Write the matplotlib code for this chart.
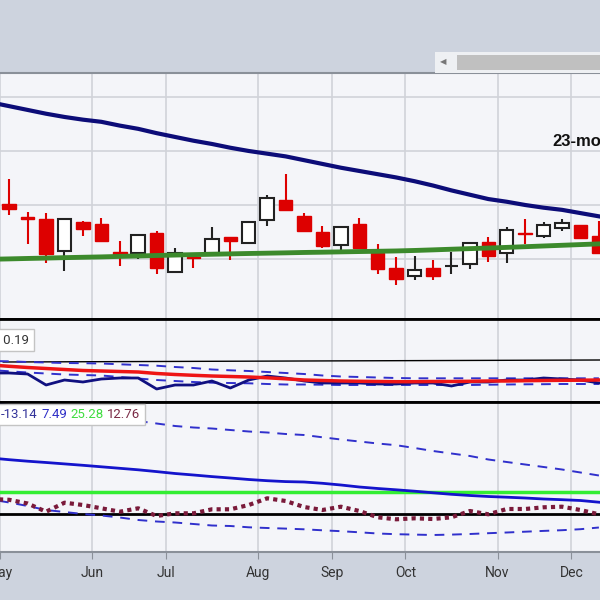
import matplotlib.pyplot as plt
from matplotlib.patches import Rectangle
from matplotlib.offsetbox import TextArea, HPacker, AnchoredOffsetbox

# weekly candles (index 0..32), price units
opens = [110.2, 107.8, 107.4, 101.5, 106.9, 106.5, 101.3, 101.1, 104.8, 97.6, 100.4,
         101.1, 104.1, 103.0, 107.2, 110.9, 108.0, 105.0, 102.6, 106.5, 101.1, 98.3,
         96.9, 98.3, 98.7, 99.1, 103.1, 101.1, 104.9, 104.3, 105.7, 106.3, 104.3]
highs = [114.8, 108.7, 108.5, 107.6, 107.0, 107.6, 103.3, 104.4, 105.2, 102.0, 101.1,
         105.9, 104.1, 107.0, 111.9, 115.7, 108.5, 106.1, 105.9, 107.6, 102.8, 100.4,
         100.6, 99.8, 101.3, 103.0, 104.1, 105.9, 107.4, 106.9, 107.4, 106.3, 107.0]
lows = [108.2, 102.8, 99.3, 97.8, 104.3, 103.3, 98.7, 100.0, 97.2, 97.6, 98.3,
        101.1, 99.8, 103.0, 106.1, 109.1, 105.2, 102.0, 101.7, 102.0, 97.2, 95.2,
        96.1, 96.1, 97.2, 98.1, 99.4, 99.3, 102.8, 103.9, 105.2, 103.9, 101.1]
closes = [109.3, 107.4, 100.9, 107.4, 105.6, 103.3, 100.6, 104.4, 98.3, 101.1, 100.2,
          103.7, 103.3, 106.9, 111.3, 109.1, 105.2, 102.4, 105.9, 102.0, 98.2, 96.3,
          98.0, 96.9, 98.7, 103.0, 100.6, 105.4, 104.7, 106.3, 106.7, 103.9, 101.1]

# line series start one week before the first visible candle (index -1..32)
ma_long = [129.0, 128.3, 127.6, 126.9, 126.3, 125.8, 125.4, 124.7, 124.1, 123.3, 122.6,
           121.9, 121.3, 120.6, 120.0, 119.5, 119.0, 118.3, 117.6, 116.9, 116.3,
           115.7, 115.1, 114.4, 113.6, 112.7, 111.9, 111.1, 110.6, 110.0, 109.5,
           109.1, 108.5, 107.9]
ma_23m = [99.95, 100.02, 100.1, 100.17, 100.25, 100.32, 100.39, 100.48, 100.56, 100.65,
          100.73, 100.81, 100.88, 100.95, 101.02, 101.08, 101.14, 101.21, 101.26,
          101.32, 101.38, 101.43, 101.49, 101.58, 101.69, 101.81, 101.92, 102.03,
          102.15, 102.28, 102.41, 102.54, 102.67, 102.8]

# middle panel
rs_line = [0.29, 0.29, 0.28, 0.17, 0.22, 0.20, 0.23, 0.24, 0.24, 0.13, 0.17, 0.17, 0.21,
           0.14, 0.22, 0.26, 0.24, 0.21, 0.19, 0.19, 0.19, 0.18, 0.18, 0.19, 0.19, 0.16,
           0.20, 0.20, 0.22, 0.22, 0.24, 0.23, 0.22, 0.19]
rs_avg = [0.37, 0.357, 0.345, 0.335, 0.325, 0.315, 0.31, 0.305, 0.30, 0.285, 0.275,
          0.267, 0.26, 0.255, 0.25, 0.242, 0.232, 0.22, 0.215, 0.21, 0.207, 0.205,
          0.203, 0.203, 0.205, 0.205, 0.207, 0.21, 0.21, 0.213, 0.215, 0.217, 0.218, 0.22]
rs_upper = [0.41, 0.407, 0.40, 0.395, 0.39, 0.388, 0.385, 0.377, 0.37, 0.363, 0.35,
            0.34, 0.325, 0.317, 0.31, 0.30, 0.29, 0.28, 0.265, 0.255, 0.25, 0.245,
            0.24, 0.237, 0.237, 0.237, 0.237, 0.237, 0.237, 0.237, 0.237, 0.237,
            0.237, 0.237]
rs_lower = [0.32, 0.307, 0.295, 0.285, 0.275, 0.27, 0.265, 0.25, 0.235, 0.22, 0.21,
            0.20, 0.193, 0.19, 0.187, 0.18, 0.175, 0.175, 0.173, 0.17, 0.17, 0.17,
            0.17, 0.17, 0.17, 0.17, 0.17, 0.173, 0.175, 0.177, 0.178, 0.18, 0.18, 0.18]
rs_ref = [0.40, 0.42]

# bottom panel
osc_line = [18.8, 18.46, 18.16, 17.9, 17.62, 17.34, 17.04, 16.74, 16.44, 16.08, 15.7,
            15.4, 15.08, 14.8, 14.5, 14.26, 14.08, 14.0, 13.74, 13.4, 13.0, 12.7,
            12.44, 12.16, 11.84, 11.54, 11.3, 11.1, 10.96, 10.8, 10.6, 10.46, 10.3, 9.96]
osc_upper = [29.9, 29.4, 28.9, 28.4, 27.9, 27.4, 27.0, 26.6, 26.2, 25.7, 25.2, 24.9,
             24.7, 24.4, 24.1, 23.9, 23.6, 23.4, 22.94, 22.5, 22.1, 21.7, 21.36, 20.8,
             20.2, 19.7, 19.2, 18.5, 18.0, 17.5, 17.0, 16.5, 15.9, 15.3]
osc_lower = [10.5, 9.9, 9.2, 8.4, 8.0, 7.6, 7.3, 6.9, 6.4, 6.1, 5.9, 5.6, 5.3, 5.2,
             4.94, 4.8, 4.68, 4.54, 4.34, 4.16, 3.94, 3.7, 3.56, 3.48, 3.4, 3.48, 3.6,
             3.76, 3.9, 4.06, 4.22, 4.36, 4.56, 4.9]
osc_dots = [10.6, 10.44, 9.7, 8.06, 9.86, 9.4, 8.74, 8.06, 8.74, 7.2, 7.74, 7.74, 8.54,
            8.54, 9.4, 10.74, 10.2, 9.0, 8.4, 9.06, 8.2, 6.94, 6.54, 6.74, 6.6, 6.94,
            8.2, 7.54, 8.6, 8.6, 8.94, 9.06, 8.4, 7.54]
osc_signal = 12.06
osc_base = 7.6

month_pos = [-0.5, 4.5, 8.5, 13.5, 17.5, 21.5, 26.5, 30.5]
month_labels = ['May', 'Jun', 'Jul', 'Aug', 'Sep', 'Oct', 'Nov', 'Dec']
price_grid = [100, 110, 120, 130]

rs_legend = "0.27 0.19"
osc_legend = ["-13.14", "7.49", "25.28", "12.76"]
osc_legend_colors = ['#34349a', '#3030c8', '#40dd40', '#7a2a45']

BG = '#cdd3de'
PANEL = '#f4f5f9'
GRID = '#d0d3d9'
RED = '#dd0000'

candle_x = list(range(len(opens)))
line_x = list(range(-1, len(opens)))
xlim = (-0.324, 32.06)

fig = plt.figure(figsize=(6, 6), dpi=100, facecolor=BG)
ax1 = fig.add_axes([0, 1 - 319 / 600, 1, 246 / 600])
ax2 = fig.add_axes([0, 1 - 402 / 600, 1, 83 / 600], sharex=ax1)
ax3 = fig.add_axes([0, 1 - 552 / 600, 1, 150 / 600], sharex=ax1)

for ax in (ax1, ax2, ax3):
    ax.set_facecolor(PANEL)
    ax.set_xticks(month_pos)
    ax.grid(axis='x', color=GRID, lw=1.2)
    ax.set_axisbelow(True)
    for side in ('left', 'right'):
        ax.spines[side].set_visible(False)
    ax.tick_params(left=False, labelleft=False)

ax1.spines['top'].set_color('#8a9099')
ax1.spines['top'].set_linewidth(1.5)
ax1.spines['bottom'].set_color('black')
ax1.spines['bottom'].set_linewidth(2)
ax2.spines['top'].set_linewidth(2)
ax2.spines['bottom'].set_linewidth(2)
ax3.spines['top'].set_linewidth(2)
ax3.spines['bottom'].set_color('#8a9099')
ax3.spines['bottom'].set_linewidth(1.5)
ax1.tick_params(bottom=False, labelbottom=False)
ax2.tick_params(bottom=False, labelbottom=False)

# price panel
ax1.set_yticks(price_grid)
ax1.grid(axis='y', color=GRID, lw=1.2)
for x, o, h, l, c in zip(candle_x, opens, highs, lows, closes):
    if c < o:
        ax1.vlines(x, l, h, color=RED, lw=1.5, zorder=2)
        ax1.bar(x, o - c, bottom=c, width=0.73, color=RED, edgecolor=RED, lw=1, zorder=3)
    else:
        ax1.vlines(x, l, h, color='#222222', lw=1.5, zorder=2)
        ax1.bar(x, c - o, bottom=o, width=0.73, color='white', edgecolor='#222222',
                lw=1.5, zorder=3)
ax1.plot(line_x, ma_long, color='#0c0c78', lw=3, zorder=4)
ax1.plot(line_x, ma_23m, color='#3c8a2c', lw=3.5, zorder=4)
ax1.set_ylim(88.89, 134.44)
ax1.set_xlim(*xlim)
fig.text(552 / 600, 1 - 142 / 600, "23-month", fontsize=12, fontweight='bold',
         family='Liberation Sans', color='#111111', va='center', ha='left')

# middle panel
ax2.plot(xlim, rs_ref, color='black', lw=1)
ax2.plot(line_x, rs_upper, color='#3030cc', lw=1.4, ls=(0, (5, 4)))
ax2.plot(line_x, rs_lower, color='#3030cc', lw=1.4, ls=(0, (5, 4)))
ax2.plot(line_x, rs_line, color='#101080', lw=2)
ax2.plot(line_x, rs_avg, color='#ee1515', lw=2.5)
ax2.set_ylim(0, 0.83)
fig.text(29 / 600, 1 - 340 / 600, rs_legend, ha='right', va='center', fontsize=9.5,
         family='Roboto', color='#333333',
         bbox=dict(boxstyle='square,pad=0.35', fc='white', ec='#c4c4c4', lw=1))

# bottom panel
ax3.axhline(osc_base, color='black', lw=2)
ax3.axhline(osc_signal, color='#33ee33', lw=2.5)
ax3.plot(line_x, osc_upper, color='#3030cc', lw=1.4, ls=(0, (5, 4)))
ax3.plot(line_x, osc_lower, color='#3030cc', lw=1.4, ls=(0, (5, 4)))
ax3.plot(line_x, osc_line, color='#1414cc', lw=2)
ax3.plot(line_x, osc_dots, color='#7a1a3a', lw=3, ls=(0, (1, 1)), dash_capstyle='butt')
ax3.set_ylim(0, 30)

parts = [TextArea(t, textprops=dict(color=col, fontsize=9.5, family='Roboto'))
         for t, col in zip(osc_legend, osc_legend_colors)]
pack = HPacker(children=parts, pad=0, sep=2.5)
box = AnchoredOffsetbox(loc='upper left', child=pack, pad=0.3, borderpad=0,
                        frameon=True, bbox_to_anchor=(-3 / 600, 1 - 404 / 600),
                        bbox_transform=fig.transFigure)
box.patch.set_facecolor('white')
box.patch.set_edgecolor('#c4c4c4')
box.patch.set_boxstyle('square', pad=0)
fig.add_artist(box)

ax3.set_xticks(month_pos)
ax3.set_xticklabels(month_labels)
ax3.tick_params(axis='x', length=5, color='#8a9099', labelsize=10, labelcolor='#333333',
                pad=5)
for lbl in ax3.get_xticklabels():
    lbl.set_family('Roboto')

# scrollbar strip at the top
fig.add_artist(Rectangle((435 / 600, 1 - 73 / 600), 165 / 600, 21 / 600,
                         transform=fig.transFigure, fc='#eef0f3', ec='none'))
fig.add_artist(Rectangle((457 / 600, 1 - 70 / 600), 143 / 600, 15 / 600,
                         transform=fig.transFigure, fc='#c0c0c0', ec='none'))
fig.text(443 / 600, 1 - 62 / 600, '◀', fontsize=6, color='#777777', ha='center',
         va='center')

fig.savefig('out.png', dpi=100, facecolor=BG)
